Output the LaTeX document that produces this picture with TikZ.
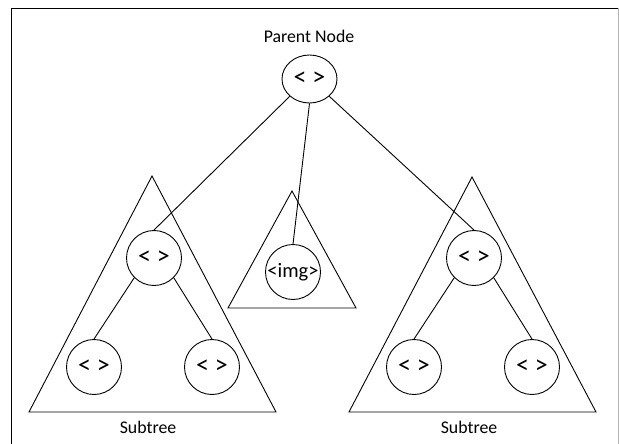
\documentclass[tikz,border=0pt]{standalone}
\usepackage{fontspec}
\setmainfont{Carlito}
\usetikzlibrary{shapes.geometric}

\begin{document}
\begin{tikzpicture}[x=1pt, y=-1pt, line width=0.9pt,
  treenode/.style={draw, circle, minimum size=55pt, inner sep=0pt, font=\fontsize{26}{30}\selectfont},
  imgnode/.style={treenode, font=\fontsize{20.5}{24}\selectfont},
  tagtext/.style={font=\fontsize{17.8}{21}\selectfont}]
\useasboundingbox (0,0) rectangle (619,444);

%--- Frame ---
\draw (11,450) |- (618,8);
\draw[gray!60] (618,8) -- (618,450);

%--- Subtree outlines ---
\draw (152,176) -- (29,412) -- (276,412) -- cycle; % left
\draw (292,191) -- (228,308) -- (356,308) -- cycle; % middle
\draw (472,177) -- (349,412) -- (596,412) -- cycle; % right

%--- Parent ---
\node[tagtext] (ptitle) at (309,36) {Parent Node};
\node[treenode, ellipse, minimum width=55pt, minimum height=48pt] (parent) at (309.5,79) {< >};

% Left subtree
\node[treenode] (ltop) at (154,258) {< >};
\node[treenode] (lleft) at (94,367) {< >};
\node[treenode] (lright) at (212,367) {< >};
\node[tagtext] (lname) at (148,427) {Subtree};

% Middle
\node[imgnode] (mimg) at (293,272) {<img>};

% Right subtree
\node[treenode] (rtop) at (474,258) {< >};
\node[treenode] (rleft) at (414,367) {< >};
\node[treenode] (rright) at (532,367) {< >};
\node[tagtext] (rname) at (469,427) {Subtree};

%--- Edges ---
\draw (parent.south west) -- (ltop.north);
\draw (parent.south) -- (mimg.north);
\draw (parent.south east) -- (rtop.north);

\draw (ltop.south west) -- (lleft.north);
\draw (ltop.south east) -- (lright.north);
\draw (rtop.south west) -- (rleft.north);
\draw (rtop.south east) -- (rright.north);

\end{tikzpicture}
\end{document}
